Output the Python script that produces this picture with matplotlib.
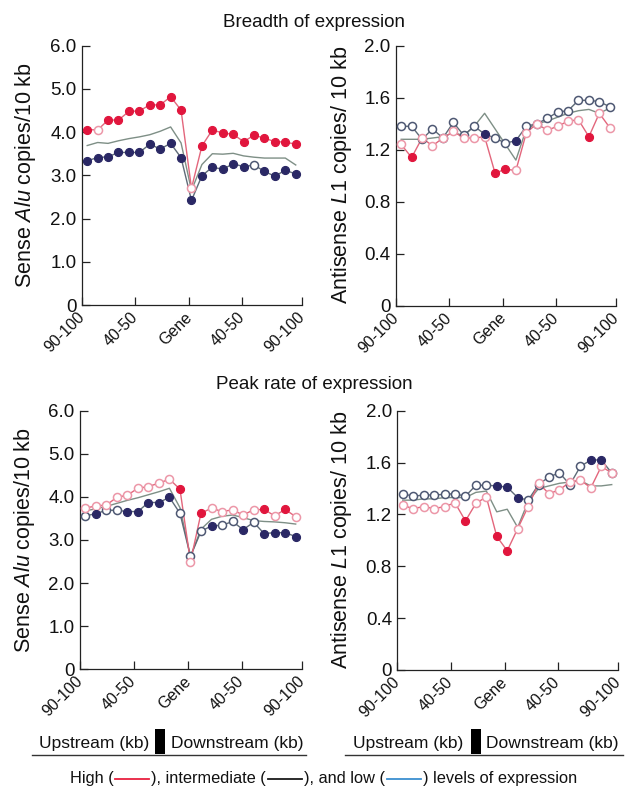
import matplotlib
matplotlib.use('Agg')
import matplotlib.pyplot as plt
from matplotlib.lines import Line2D
from matplotlib.patches import Rectangle
import numpy as np

plt.rcParams['font.family'] = ['Liberation Sans', 'DejaVu Sans']
plt.rcParams['mathtext.fontset'] = 'custom'
plt.rcParams['mathtext.rm'] = 'Liberation Sans'
plt.rcParams['mathtext.it'] = 'Liberation Sans:italic'

# ---------------- data ----------------
bins = ['90-100', '80-90', '70-80', '60-70', '50-60', '40-50', '30-40', '20-30', '10-20', '0-10',
        'Gene',
        '0-10', '10-20', '20-30', '30-40', '40-50', '50-60', '60-70', '70-80', '80-90', '90-100']
shown_ticks = ['90-100', '40-50', 'Gene', '40-50', '90-100']

# Breadth of expression - Sense Alu
alu_breadth_high = [4.06, 4.05, 4.28, 4.28, 4.48, 4.49, 4.63, 4.63, 4.82, 4.51, 2.70,
                    3.68, 4.05, 3.98, 3.95, 3.78, 3.93, 3.86, 3.78, 3.77, 3.72]
alu_breadth_high_sig = [1, 0, 1, 1, 1, 1, 1, 1, 1, 1, 0, 1, 1, 1, 1, 1, 1, 1, 1, 1, 1]
alu_breadth_mid = [3.69, 3.76, 3.74, 3.80, 3.85, 3.89, 3.94, 4.02, 4.12, 3.75, 2.65,
                   3.25, 3.50, 3.49, 3.51, 3.45, 3.42, 3.40, 3.40, 3.40, 3.24]
alu_breadth_low = [3.34, 3.41, 3.43, 3.53, 3.53, 3.53, 3.72, 3.61, 3.74, 3.41, 2.42,
                   2.99, 3.19, 3.14, 3.27, 3.20, 3.24, 3.09, 2.98, 3.12, 3.03]
alu_breadth_low_sig = [1, 1, 1, 1, 1, 1, 1, 1, 1, 1, 1, 1, 1, 1, 1, 1, 0, 1, 1, 1, 1]

# Breadth of expression - Antisense L1
l1_breadth_high = [1.24, 1.14, 1.29, 1.23, 1.29, 1.34, 1.29, 1.29, 1.30, 1.02, 1.05,
                   1.04, 1.33, 1.40, 1.35, 1.38, 1.42, 1.43, 1.30, 1.48, 1.37]
l1_breadth_high_sig = [0, 1, 0, 0, 0, 0, 0, 0, 0, 1, 1, 0, 0, 0, 0, 0, 0, 0, 1, 0, 0]
l1_breadth_mid = [1.28, 1.28, 1.28, 1.29, 1.30, 1.33, 1.31, 1.38, 1.48, 1.36, 1.24,
                  1.12, 1.36, 1.40, 1.42, 1.45, 1.48, 1.50, 1.51, 1.48, 1.52]
l1_breadth_low = [1.38, 1.38, 1.28, 1.36, 1.29, 1.41, 1.31, 1.38, 1.32, 1.29, 1.25,
                  1.27, 1.38, 1.40, 1.44, 1.49, 1.50, 1.58, 1.58, 1.57, 1.53]
l1_breadth_low_sig = [0, 0, 0, 0, 0, 0, 0, 0, 1, 0, 0, 1, 0, 0, 0, 0, 0, 0, 0, 0, 0]

# Peak rate of expression - Sense Alu
alu_peak_high = [3.74, 3.79, 3.81, 3.99, 4.04, 4.20, 4.24, 4.32, 4.41, 4.18, 2.50,
                 3.62, 3.74, 3.66, 3.70, 3.58, 3.70, 3.71, 3.56, 3.71, 3.54]
alu_peak_high_sig = [0, 0, 0, 0, 0, 0, 0, 0, 0, 1, 0, 1, 0, 0, 0, 0, 0, 1, 0, 1, 0]
alu_peak_mid = [3.68, 3.72, 3.78, 3.85, 3.92, 3.98, 4.05, 4.12, 4.20, 3.75, 2.62,
                3.25, 3.48, 3.55, 3.58, 3.52, 3.45, 3.43, 3.42, 3.40, 3.37]
alu_peak_low = [3.56, 3.61, 3.69, 3.69, 3.66, 3.66, 3.87, 3.87, 3.99, 3.62, 2.62,
                3.20, 3.33, 3.34, 3.43, 3.24, 3.41, 3.15, 3.17, 3.17, 3.08]
alu_peak_low_sig = [0, 1, 0, 0, 1, 1, 1, 1, 1, 0, 0, 0, 1, 0, 0, 1, 0, 1, 1, 1, 1]

# Peak rate of expression - Antisense L1
l1_peak_high = [1.27, 1.245, 1.26, 1.245, 1.26, 1.29, 1.15, 1.285, 1.335, 1.03, 0.92,
                1.09, 1.26, 1.44, 1.36, 1.39, 1.45, 1.465, 1.405, 1.57, 1.52]
l1_peak_high_sig = [0, 0, 0, 0, 0, 0, 1, 0, 0, 1, 1, 0, 0, 0, 0, 0, 0, 0, 0, 0, 0]
l1_peak_mid = [1.31, 1.31, 1.32, 1.32, 1.33, 1.33, 1.33, 1.37, 1.38, 1.22, 1.24,
               1.10, 1.30, 1.40, 1.42, 1.44, 1.45, 1.46, 1.42, 1.42, 1.43]
l1_peak_low = [1.36, 1.34, 1.35, 1.35, 1.355, 1.36, 1.34, 1.425, 1.425, 1.42, 1.41,
               1.33, 1.31, 1.43, 1.49, 1.52, 1.43, 1.57, 1.62, 1.62, 1.52]
l1_peak_low_sig = [0, 0, 0, 0, 0, 0, 0, 0, 0, 1, 1, 1, 0, 0, 0, 0, 0, 0, 1, 1, 0]

alu_yticks = [0, 1, 2, 3, 4, 5, 6]
alu_yticklabels = ['0', '1.0', '2.0', '3.0', '4.0', '5.0', '6.0']
l1_yticks = [0, 0.4, 0.8, 1.2, 1.6, 2.0]
l1_yticklabels = ['0', '0.4', '0.8', '1.2', '1.6', '2.0']

titles = ['Breadth of expression', 'Peak rate of expression']
alu_label = 'Sense $\\mathit{Alu}$ copies/10 kb'
l1_label = 'Antisense $\\mathit{L1}$ copies/ 10 kb'

# ---------------- style ----------------
RED = '#e1163d'
RED_LINE = '#e3667c'
PINK = '#ec97a8'
NAVY = '#2a2865'
NAVY_OPEN = '#4e5873'
LOW_LINE = '#5f6b78'
MID_LINE = '#7e8f86'

W, H = 629, 787
fig = plt.figure(figsize=(W / 100, H / 100), dpi=100)


def fx(px):
    return px / W


def fy(py):
    return 1 - py / H


def make_ax(l, t, r, b):
    return fig.add_axes([fx(l), fy(b), fx(r - l), (b - t) / H])


tick_pos = [-0.5, 4.6, 9.8, 14.85, 20.6]


def draw(ax, high, high_sig, mid, low, low_sig, ymax, yt, ytl):
    x = np.arange(len(bins))
    ax.plot(x, mid, color=MID_LINE, lw=1.0, zorder=2)
    ax.plot(x, low, color=LOW_LINE, lw=1.0, zorder=3)
    ax.plot(x, high, color=RED_LINE, lw=1.0, zorder=3)
    for series, sig, fc, oc in [(low, low_sig, NAVY, NAVY_OPEN), (high, high_sig, RED, PINK)]:
        s = np.array(series)
        g = np.array(sig, bool)
        ax.plot(x[~g], s[~g], 'o', ms=5.8, mfc='white', mec=oc, mew=1.1, ls='none', zorder=4)
        ax.plot(x[g], s[g], 'o', ms=5.8, mfc=fc, mec=fc, mew=0.8, ls='none', zorder=5)
    ax.set_xlim(tick_pos[0], tick_pos[-1])
    ax.set_ylim(0, ymax)
    for sp in ['top', 'right']:
        ax.spines[sp].set_visible(False)
    for sp in ['left', 'bottom']:
        ax.spines[sp].set_linewidth(0.9)
        ax.spines[sp].set_color('#222222')
    ax.set_yticks(yt)
    ax.set_yticklabels(ytl)
    ax.set_xticks(tick_pos)
    ax.set_xticklabels(shown_ticks, rotation=45, ha='right', va='center',
                       rotation_mode='anchor')
    ax.tick_params(axis='y', direction='in', length=6, width=0.9, labelsize=13.5, pad=4,
                   colors='#222222', labelcolor='#111111')
    ax.tick_params(axis='x', direction='in', length=6, width=0.9, labelsize=11.5, pad=7,
                   colors='#222222', labelcolor='#111111')


ax1 = make_ax(82, 45.7, 302, 305)
draw(ax1, alu_breadth_high, alu_breadth_high_sig, alu_breadth_mid, alu_breadth_low,
     alu_breadth_low_sig, 6, alu_yticks, alu_yticklabels)
ax2 = make_ax(396, 45.7, 616, 305.7)
draw(ax2, l1_breadth_high, l1_breadth_high_sig, l1_breadth_mid, l1_breadth_low,
     l1_breadth_low_sig, 2.0, l1_yticks, l1_yticklabels)
ax3 = make_ax(80, 410.7, 302, 669.3)
draw(ax3, alu_peak_high, alu_peak_high_sig, alu_peak_mid, alu_peak_low,
     alu_peak_low_sig, 6, alu_yticks, alu_yticklabels)
ax4 = make_ax(397.5, 410.7, 618, 670)
draw(ax4, l1_peak_high, l1_peak_high_sig, l1_peak_mid, l1_peak_low,
     l1_peak_low_sig, 2.0, l1_yticks, l1_yticklabels)

# y labels
for (xp, yp, lab) in [(26, 175, alu_label), (341, 175, l1_label),
                      (25, 540, alu_label), (342, 540, l1_label)]:
    fig.text(fx(xp), fy(yp), lab, rotation=90, ha='center', va='center',
             fontsize=15.5, color='#111111')

# titles
fig.text(fx(314), fy(27), titles[0], ha='center', va='baseline', fontsize=13.5, color='#111111')
fig.text(fx(314), fy(389), titles[1], ha='center', va='baseline', fontsize=13.5, color='#111111')

# Upstream / Downstream annotation
for (lx0, lx1, up_end, rx0, rx1, dn_start) in [(32, 306, 149, 155, 165, 171),
                                                (345, 623, 463, 471, 481, 486)]:
    fig.text(fx(up_end), fy(748), 'Upstream (kb)', ha='right', va='baseline',
             fontsize=12.5, color='#111111')
    fig.text(fx(dn_start), fy(748), 'Downstream (kb)', ha='left', va='baseline',
             fontsize=12.5, color='#111111')
    fig.add_artist(Rectangle((fx(rx0), fy(754)), fx(rx1 - rx0), (754 - 729) / H,
                             transform=fig.transFigure, facecolor='black', edgecolor='none'))
    fig.add_artist(Line2D([fx(lx0), fx(lx1)], [fy(754.5), fy(754.5)], transform=fig.transFigure,
                          color='#333333', lw=1.0))

# legend line of text
renderer = fig.canvas.get_renderer()
pieces = [('t', 'High ('), ('l', '#e8203f'), ('t', '), intermediate ('), ('l', '#1a1a1a'),
          ('t', '), and low ('), ('l', '#3a8fd0'), ('t', ') levels of expression')]
fs_leg = 11.8
seg_len = 34
gap = 2
widths = []
for kind, val in pieces:
    if kind == 't':
        t = fig.text(0, 0, val, fontsize=fs_leg)
        bb = t.get_window_extent(renderer)
        widths.append(bb.width)
        t.remove()
    else:
        widths.append(seg_len + 2 * gap)
total = sum(widths)
xcur = 323.5 - total / 2
ybase = 783
for (kind, val), w in zip(pieces, widths):
    if kind == 't':
        fig.text(fx(xcur), fy(ybase), val, fontsize=fs_leg, ha='left', va='baseline',
                 color='#111111')
    else:
        fig.add_artist(Line2D([fx(xcur + gap), fx(xcur + gap + seg_len)], [fy(779), fy(779)],
                              transform=fig.transFigure, color=val, lw=1.3))
    xcur += w

fig.savefig('out.png', dpi=100)
